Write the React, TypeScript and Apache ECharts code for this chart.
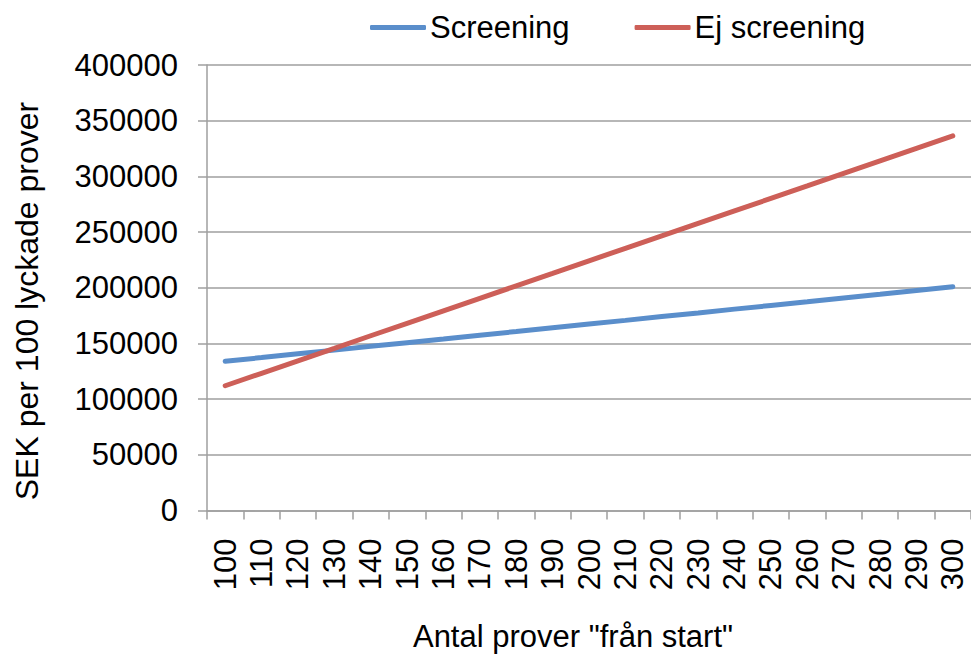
import React, { useEffect, useRef } from "react";
import * as echarts from "echarts";

const categories = ["100","110","120","130","140","150","160","170","180","190","200","210","220","230","240","250","260","270","280","290","300"];
const screening = [134000,137300,140700,144000,147400,150700,154000,157400,160700,164100,167400,170700,174100,177400,180800,184100,187400,190800,194100,197500,200800];
const ejScreening = [112000,123200,134400,145600,156900,168100,179300,190500,201700,212900,224200,235400,246600,257800,269000,280200,291400,302700,313900,325100,336300];
const seriesNames = ["Screening", "Ej screening"];
const yTitle = "SEK per 100 lyckade prover";
const xTitle = 'Antal prover "från start"';

const FONT = "'Liberation Sans', Arial, sans-serif";
const GRID = "#9f9f9f";
const BLUE = "#5A8ECB";
const RED = "#CD5F58";

export default function App() {
  const ref = useRef<HTMLDivElement>(null);
  useEffect(() => {
    if (!ref.current) return;
    const chart = echarts.init(ref.current, null, { renderer: "svg" });
    chart.setOption({
      animation: false,
      backgroundColor: "#ffffff",
      textStyle: { fontFamily: FONT },
      legend: {
        left: 365,
        top: 7,
        icon: "roundRect",
        itemWidth: 56,
        itemHeight: 5,
        itemGap: 65,
        textStyle: { fontSize: 31, color: "#000", fontFamily: FONT, padding: [0, 0, 0, -1] },
        data: [
          { name: seriesNames[0], itemStyle: { color: BLUE } },
          { name: seriesNames[1], itemStyle: { color: RED } },
        ],
      },
      grid: { left: 207, top: 65, right: -6, bottom: 144.5, containLabel: false },
      xAxis: {
        type: "category",
        data: categories,
        boundaryGap: true,
        axisLine: { show: true, lineStyle: { color: GRID, width: 1.5 } },
        axisTick: { show: true, interval: 0, length: 9, lineStyle: { color: GRID, width: 1.5 } },
        axisLabel: { interval: 0, rotate: 90, margin: 28, fontSize: 31, color: "#000", fontFamily: FONT },
      },
      yAxis: {
        type: "value",
        min: 0,
        max: 400000,
        interval: 50000,
        axisLine: { show: true, lineStyle: { color: GRID, width: 1.5 } },
        axisTick: { show: true, length: 9, lineStyle: { color: GRID, width: 1.5 } },
        axisLabel: { margin: 29, fontSize: 31, color: "#000", fontFamily: FONT, formatter: (v: number) => String(v) },
        splitLine: { show: true, lineStyle: { color: GRID, width: 1.5 } },
      },
      graphic: [
        {
          type: "text",
          x: 27,
          y: 301,
          rotation: Math.PI / 2,
          style: { text: yTitle, fontSize: 32, fontFamily: FONT, fill: "#000", textAlign: "center", textVerticalAlign: "middle" },
        },
        {
          type: "text",
          x: 573,
          y: 636,
          style: { text: xTitle, fontSize: 31, fontFamily: FONT, fill: "#000", textAlign: "center", textVerticalAlign: "middle" },
        },
      ],
      series: [
        {
          name: seriesNames[0],
          type: "line",
          data: screening,
          symbol: "none",
          color: BLUE,
          lineStyle: { width: 5, cap: "round", color: BLUE },
        },
        {
          name: seriesNames[1],
          type: "line",
          data: ejScreening,
          symbol: "none",
          color: RED,
          lineStyle: { width: 5, cap: "round", color: RED },
        },
      ],
    });
    return () => chart.dispose();
  }, []);
  return (
    <div
      ref={ref}
      style={{ position: "fixed", left: 0, top: 0, width: 971, height: 655, background: "#fff" }}
    />
  );
}
